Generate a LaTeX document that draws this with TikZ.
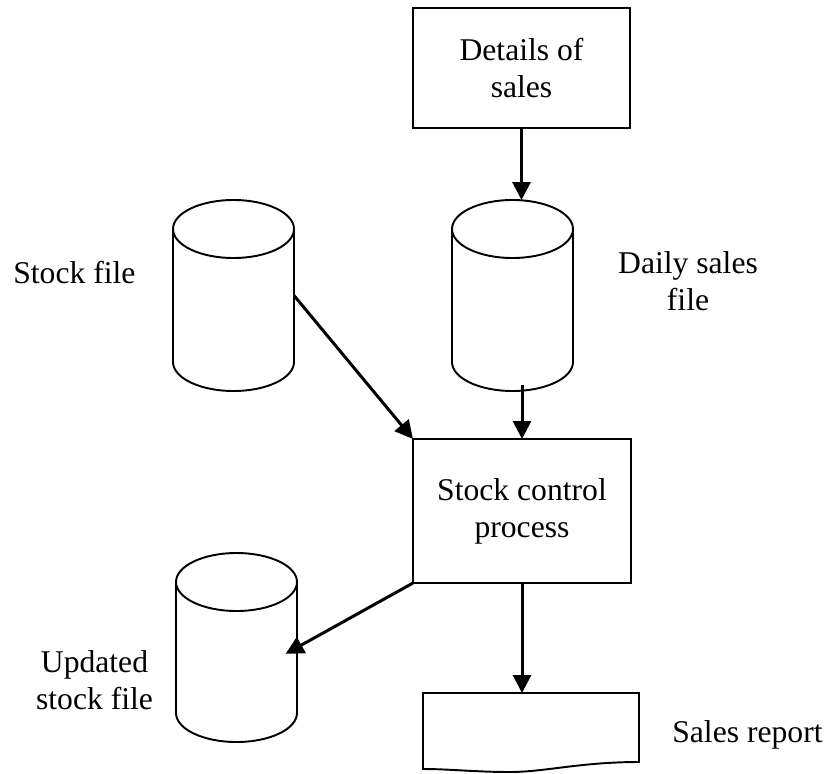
\documentclass[tikz,border=0pt]{standalone}
\usepackage{fontspec}
\setmainfont{Liberation Serif}
\usetikzlibrary{arrows.meta}
\begin{document}
\begin{tikzpicture}[>={Triangle[length=0.36cm,width=0.36cm]},x=1cm,y=1cm,
	box/.style={draw,line width=1.1pt,minimum width=4.34cm,align=center,inner sep=0,outer sep=0},
	store/.style={minimum width=2.42cm,minimum height=2.66cm,inner sep=0,outer sep=0},
	flow/.style={->,line width=1.7pt},
	lbl/.style={align=center,inner sep=0}]
	\def\rx{1.21cm} % ban kinh ngang cua tru
	\def\ry{0.58cm}
	\useasboundingbox (0,0) rectangle (16.58,15.46);
	\fontsize{18}{21}\selectfont
	% cac khoi xu ly
	\node[box,minimum height=2.4cm] (details) at (10.43,14.1) {Details of\\sales};
	\node[box,minimum height=2.88cm,minimum width=4.36cm] (control) at (10.44,5.24) {Stock control\\process};
	% cac tep du lieu
	\node[store] (stock) at (4.67,9.55) {};
	\node[store] (daily) at (10.25,9.55) {};
	\node[store,minimum height=2.62cm] (updated) at (4.73,2.51) {};
	\foreach \n in {stock,daily,updated}{
		\draw[line width=1.1pt] (\n.north west) -- (\n.south west) arc[start angle=180,end angle=360,x radius=\rx,y radius=\ry] -- (\n.north east);
		\draw[line width=1.1pt] (\n.north) ellipse [x radius=\rx,y radius=\ry];
	}
	% bao cao
	\node[minimum width=4.32cm,minimum height=1.52cm,inner sep=0,outer sep=0] (report) at (10.62,0.84) {};
	\draw[line width=1.1pt] (report.north west) -- (report.north east) -- (12.78,0.22) .. controls (11.6,0.22) and (10.9,0.02) .. (10.2,0.02) .. controls (9.5,0.02) and (9,0.08) .. (8.46,0.08) -- cycle;
	% nhan
	\node[lbl,anchor=base west] at (0.26,9.8) {Stock file};
	\node[lbl,anchor=base] at (13.76,9.26) {Daily sales\\file};
	\node[lbl,anchor=base] at (1.89,1.28) {Updated\\stock file};
	\node[lbl,anchor=base west] at (13.44,0.62) {Sales report};
	% mui ten
	\draw[flow,shorten >=\ry] (details.south) -- (details.south |- daily.north);
	\draw[flow] (stock.east) -- (control.north west);
	\draw[flow] ([yshift=-0.46cm]daily.south -| control.north) -- (control.north);
	\draw[flow,shorten >=-0.26cm] (control.south west) -- (updated.east);
	\draw[flow] (control.south) -- (control.south |- report.north);
\end{tikzpicture}
\end{document}
